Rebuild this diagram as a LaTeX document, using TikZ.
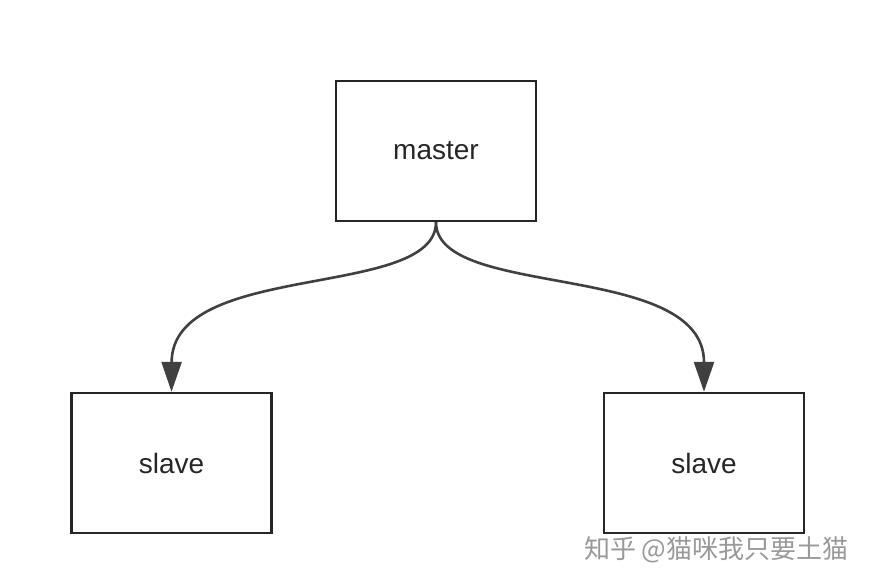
\documentclass[tikz,border=0pt]{standalone}
\usepackage{fontspec}
\setmainfont{Liberation Sans}
\newfontfamily\cjk{Noto Sans CJK SC}
\usetikzlibrary{arrows.meta}
\begin{document}
\begin{tikzpicture}[x=1pt,y=-1pt,
  boxst/.style={draw=black!85,line width=2.4pt,minimum width=200pt,minimum height=140pt,font=\fontsize{28}{32}\selectfont,text=black!85},
  conn/.style={draw=black!75,line width=2.6pt,-{Triangle[length=30pt,width=20pt]}}]
\useasboundingbox (0,0) rectangle (870,586);
\node[boxst] (m) at (436,151) {master};
\node[boxst] (l) at (171.5,463) {slave};
\node[boxst] (r) at (704,463) {slave};
\draw[conn] (m.south) .. controls (436,300) and (172,260) .. (l.north);
\draw[conn] (m.south) .. controls (436,300) and (704,260) .. (r.north);
\node[text=black!40,font=\cjk\fontsize{26}{30}\selectfont,anchor=east] (w) at (852,550) {知乎 @猫咪我只要土猫};
\end{tikzpicture}
\end{document}
